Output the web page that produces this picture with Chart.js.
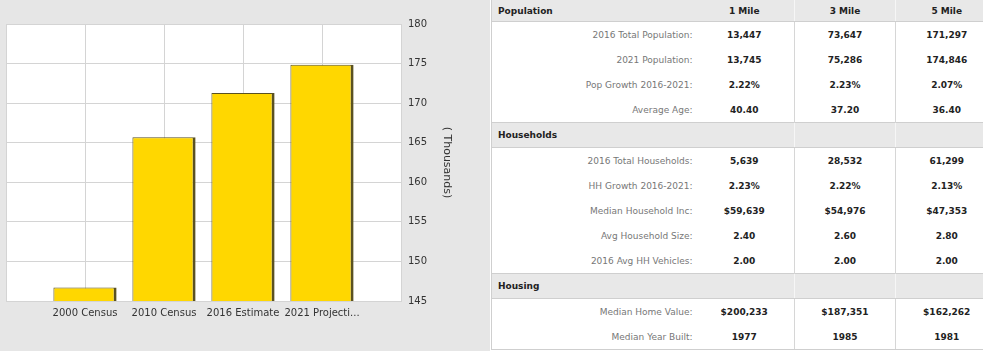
<!DOCTYPE html>
<html>
<head>
<meta charset="utf-8">
<script src="https://cdn.jsdelivr.net/npm/chart.js@4/dist/chart.umd.min.js"></script>
<style>
  html, body { margin: 0; padding: 0; width: 983px; height: 351px; overflow: hidden; background: #fff; font-family: "DejaVu Sans", Verdana, sans-serif; }
  #chartBox { position: absolute; left: 0; top: 0; width: 490px; height: 351px; background: #e6e6e6; }
  #tbl { position: absolute; left: 491px; top: 0; width: 506px; border-collapse: collapse; table-layout: fixed; font-size: 9px; }
  #tbl td { padding: 0; white-space: nowrap; }
  #tbl tr.head td { background: #e8e8e8; height: 24px; border-top: 1px solid #cfcfcf; border-bottom: 1px solid #cfcfcf; font-weight: bold; color: #222; text-align: center; }
  #tbl tr.head td.lbl { text-align: left; padding-left: 6px; }
  #tbl tr.head td.sep { border-left: 1px solid #f6f6f6; }
  #tbl tr.first td { height: 21px; border-top: none; }
  #tbl tr.row td { height: 25px; text-align: center; font-weight: bold; color: #222; }
  #tbl tr.row td.lbl { text-align: right; font-weight: normal; color: #777; padding-right: 2px; }
  #tbl tr.row td.sep { border-left: 1px solid #d6d6d6; }
  #tbl td.lbl { border-left: 1px solid #cfcfcf; }
  #tbl tr.last td { border-bottom: 1px solid #cfcfcf; }
</style>
</head>
<body>
<div id="chartBox"><canvas id="popChart" width="490" height="351"></canvas></div>
<table id="tbl">
  <colgroup><col style="width:203px"><col style="width:100px"><col style="width:101px"><col style="width:102px"></colgroup>
  <tbody id="tblBody"></tbody>
</table>
<script>
// chart data (thousands)
const categories = ['2000 Census', '2010 Census', '2016 Estimate', '2021 Projecti...'];
const population = [146.7, 165.7, 171.297, 174.846];
const yTicks = [145, 150, 155, 160, 165, 170, 175, 180];

// table data
const radii = ['1 Mile', '3 Mile', '5 Mile'];
const sections = [
  { title: 'Population', rows: [
    ['2016 Total Population:', '13,447', '73,647', '171,297'],
    ['2021 Population:', '13,745', '75,286', '174,846'],
    ['Pop Growth 2016-2021:', '2.22%', '2.23%', '2.07%'],
    ['Average Age:', '40.40', '37.20', '36.40']
  ]},
  { title: 'Households', rows: [
    ['2016 Total Households:', '5,639', '28,532', '61,299'],
    ['HH Growth 2016-2021:', '2.23%', '2.22%', '2.13%'],
    ['Median Household Inc:', '$59,639', '$54,976', '$47,353'],
    ['Avg Household Size:', '2.40', '2.60', '2.80'],
    ['2016 Avg HH Vehicles:', '2.00', '2.00', '2.00']
  ]},
  { title: 'Housing', rows: [
    ['Median Home Value:', '$200,233', '$187,351', '$162,262'],
    ['Median Year Built:', '1977', '1985', '1981']
  ]}
];

// build the table
let html = '';
sections.forEach((s, si) => {
  const heads = si === 0 ? radii : ['', '', ''];
  html += `<tr class="head${si === 0 ? ' first' : ''}"><td class="lbl">${s.title}</td>` +
    heads.map((h, i) => `<td class="${i > 0 ? 'sep' : ''}">${h}</td>`).join('') + '</tr>';
  s.rows.forEach((r, ri) => {
    const last = si === sections.length - 1 && ri === s.rows.length - 1;
    html += `<tr class="row${last ? ' last' : ''}"><td class="lbl">${r[0]}</td>` +
      r.slice(1).map((v, i) => `<td class="${i > 0 ? 'sep' : ''}">${v}</td>`).join('') + '</tr>';
  });
});
document.getElementById('tblBody').innerHTML = html;

// white plot background
const plotBg = {
  id: 'plotBg',
  beforeDraw(chart) {
    const { ctx, chartArea: a } = chart;
    ctx.save();
    ctx.fillStyle = '#ffffff';
    ctx.fillRect(a.left, a.top, a.right - a.left, a.bottom - a.top);
    ctx.restore();
  }
};

// pad the category axis with an empty slot on each side so gridlines run through bar centres
const labels = ['', ...categories, ''];
const values = [null, ...population, null];

new Chart(document.getElementById('popChart'), {
  type: 'bar',
  data: {
    labels: labels,
    datasets: [{
      data: values,
      backgroundColor: '#ffd700',
      borderColor: '#5a5122',
      borderWidth: { top: 1, left: 1, bottom: 1, right: 3 },
      borderSkipped: false,
      barPercentage: 1,
      categoryPercentage: 0.8
    }]
  },
  options: {
    responsive: false,
    animation: false,
    layout: { padding: { top: 24, left: 6, right: 0, bottom: 0 } },
    plugins: { legend: { display: false }, tooltip: { enabled: false } },
    scales: {
      x: {
        offset: false,
        grid: { color: '#d4d4d4', drawTicks: false, offset: false },
        border: { color: '#d4d4d4' },
        ticks: { autoSkip: false, maxRotation: 0, padding: 6, color: '#333', font: { family: 'DejaVu Sans', size: 10 } },
        afterFit(scale) { scale.height = 50; }
      },
      y: {
        position: 'right',
        min: 145,
        max: 180,
        afterBuildTicks(scale) { scale.ticks = yTicks.map(v => ({ value: v })); },
        grid: { color: '#d4d4d4', drawTicks: false },
        border: { color: '#d4d4d4' },
        ticks: { padding: 7, color: '#333', font: { family: 'DejaVu Sans', size: 10 } },
        title: { display: true, text: '( Thousands)', color: '#333', font: { family: 'DejaVu Sans', size: 11 }, padding: { top: 37, bottom: 0 } },
        afterFit(scale) { scale.width = 89; }
      }
    }
  },
  plugins: [plotBg]
});
</script>
</body>
</html>
